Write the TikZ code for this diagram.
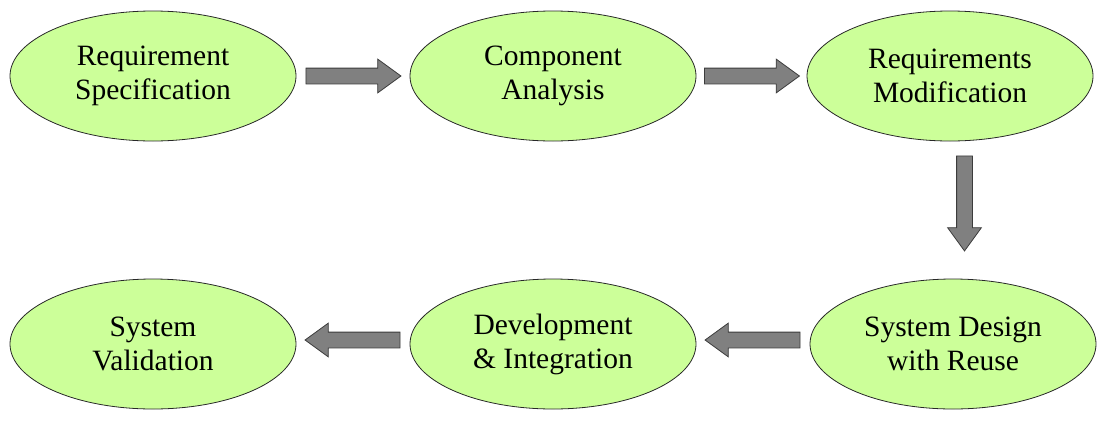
\documentclass[tikz,border=0pt]{standalone}
\usepackage{fontspec}
\setmainfont{Liberation Serif}
\newfontfamily\stagefont{Liberation Serif}
\usetikzlibrary{shapes.geometric,shapes.arrows,calc}
\definecolor{ellfill}{RGB}{204,255,153}
\definecolor{ellline}{RGB}{40,40,40}
\definecolor{arrfill}{RGB}{128,128,128}
\definecolor{arrline}{RGB}{60,60,60}
\begin{document}
\begin{tikzpicture}[x=1pt,y=-1pt,
  stage/.style={ellipse, draw=ellline, fill=ellfill, line width=0.8pt,
    minimum width=286pt, minimum height=130pt, inner sep=0pt, align=center,
    font=\stagefont\fontsize{29.5}{34}\selectfont},
  blockarrow/.style={single arrow, draw=arrline, fill=arrfill, line width=0.8pt,
    minimum height=95pt, single arrow head extend=9pt,
    single arrow tip angle=72, inner xsep=0pt, inner ysep=7.5pt}
]
\useasboundingbox (0,0) rectangle (1099,421);
\node[stage] (rs) at (153,76) {Requirement\\Specification};
\node[stage] (ca) at (553,76) {Component\\Analysis};
\node[stage] (rm) at (950,76) {Requirements\\Modification};
\node[stage] (sd) at (953,344) {System Design\\with Reuse};
\node[stage] (di) at (553,344) {Development\\\& Integration};
\node[stage] (sv) at (153,344) {System\\Validation};
\node[blockarrow] (a1) at ($(rs.east)!0.5!(ca.west)+(-5,0)$) {};
\node[blockarrow] (a2) at ($(ca.east)!0.5!(rm.west)+(-5,0)$) {};
\node[blockarrow, shape border rotate=270, inner xsep=7.5pt, inner ysep=0pt] (a3) at ($($(rm.south)!0.5!(sd.north)$)+(13,-12)$) {};
\node[blockarrow, shape border rotate=180] (a4) at ($(sd.west)!0.5!(di.east)+(5,-4)$) {};
\node[blockarrow, shape border rotate=180] (a5) at ($(di.west)!0.5!(sv.east)+(5,-4)$) {};
\end{tikzpicture}
\end{document}
